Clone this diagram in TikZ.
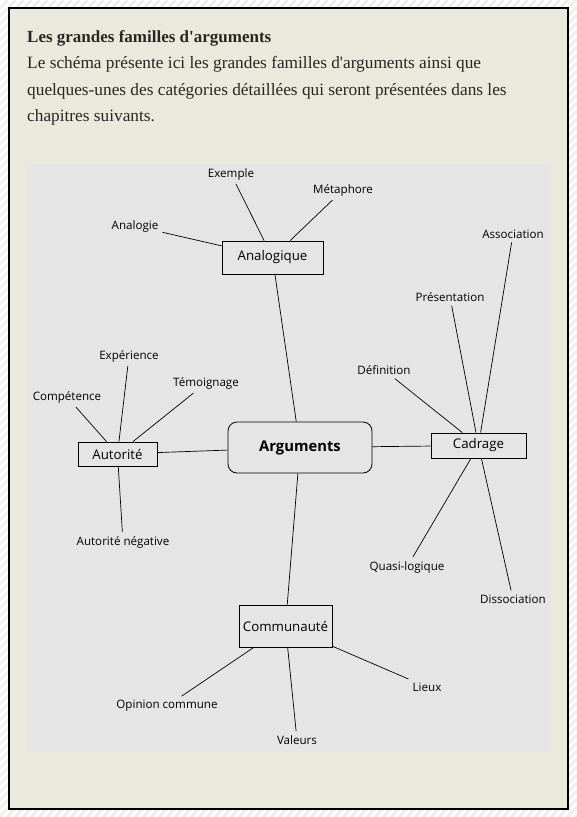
\documentclass[tikz,border=0pt]{standalone}
\usepackage{fontspec}
\setmainfont{Liberation Serif}
\newfontfamily\diagfont{Open Sans}
\usepackage{xcolor}
\usepackage{tikz}
\usetikzlibrary{positioning}

\definecolor{pagebeige}{HTML}{E9E9DC}
\definecolor{panelgray}{HTML}{E5E5E5}
\definecolor{stripegray}{HTML}{EFEFEF}
\definecolor{headink}{HTML}{262626}

\begin{document}
\begin{tikzpicture}[x=1pt, y=-1pt]
\tikzstyle{family} = [rectangle, draw, line width=0.8pt, inner sep=0pt, font=\diagfont\fontsize{13.3}{15}\selectfont]
\tikzstyle{leaf} = [inner sep=4pt, font=\diagfont\fontsize{11.6}{13}\selectfont]
\tikzstyle{spoke} = [line width=0.7pt]
\tikzstyle{prose} = [anchor=base west, inner sep=0pt, text=headink, font=\fontsize{17.3}{20}\selectfont]

% page, hatching and frames
\useasboundingbox (0,0) rectangle (577,817);
\fill[white] (0,0) rectangle (577,817);
\begin{scope}
\clip (0,0) rectangle (577,817);
\foreach \k in {0,8,...,1400} \draw[stripegray, line width=3pt] (\k-817,817) -- (\k,0);
\end{scope}
\draw[line width=1.5pt, fill=pagebeige] (9,8) rectangle (568,809);
\fill[panelgray] (27,164) rectangle (551,752);

% header text
\node (title) [prose, font=\bfseries\fontsize{17}{20}\selectfont] at (27,42.5) {Les grandes familles d\textquotesingle arguments};
\node (intro1) [prose] at (27,68.5) {Le schéma présente ici les grandes familles d\textquotesingle arguments ainsi que};
\node (intro2) [prose] at (27,95) {quelques-unes des catégories détaillées qui seront présentées dans les};
\node (intro3) [prose] at (27,121.5) {chapitres suivants.};

% centre and families
\node (arg) [rectangle, draw, line width=0.8pt, rounded corners=9pt, minimum width=144pt, minimum height=51pt, font=\diagfont\bfseries\fontsize{14.8}{17}\selectfont] at (300,447.5) {Arguments};
\node (ana) [family, minimum width=101pt, minimum height=33pt] at (272.5,257.5) {Analogique};
\node (aut) [family, minimum width=79pt, minimum height=24pt] at (117.5,454) {Autorité};
\node (cad) [family, minimum width=95pt, minimum height=25pt] at (478.5,445.5) {Cadrage};
\node (com) [family, minimum width=93pt, minimum height=42pt] at (285.5,626) {Communauté};

% categories
\node (analogie) [leaf] at (135,226) {Analogie};
\node (exemple) [leaf] at (231,174) {Exemple};
\node (metaphore) [leaf] at (343,190) {Métaphore};
\node (experience) [leaf] at (129,356) {Expérience};
\node (temoignage) [leaf] at (206,383) {Témoignage};
\node (competence) [leaf] at (67,397) {Compétence};
\node (autneg) [leaf] at (123,542) {Autorité négative};
\node (association) [leaf] at (513,234) {Association};
\node (presentation) [leaf] at (450,297) {Présentation};
\node (definition) [leaf] at (384,370) {Définition};
\node (quasilog) [leaf] at (407,567) {Quasi-logique};
\node (dissociation) [leaf] at (513,599) {Dissociation};
\node (opinion) [leaf] at (167,706) {Opinion commune};
\node (valeurs) [leaf] at (297,740) {Valeurs};
\node (lieux) [leaf] at (427,687) {Lieux};

% links
\foreach \fam in {ana, aut, cad, com} \draw [spoke] (arg) -- (\fam);
\foreach \cat in {analogie, exemple, metaphore} \draw [spoke] (\cat) -- (ana);
\foreach \cat in {experience, temoignage, competence, autneg} \draw [spoke] (\cat) -- (aut);
\foreach \cat in {association, presentation, definition, quasilog, dissociation} \draw [spoke] (\cat) -- (cad);
\foreach \cat in {opinion, valeurs, lieux} \draw [spoke] (\cat) -- (com);

\end{tikzpicture}
\end{document}
